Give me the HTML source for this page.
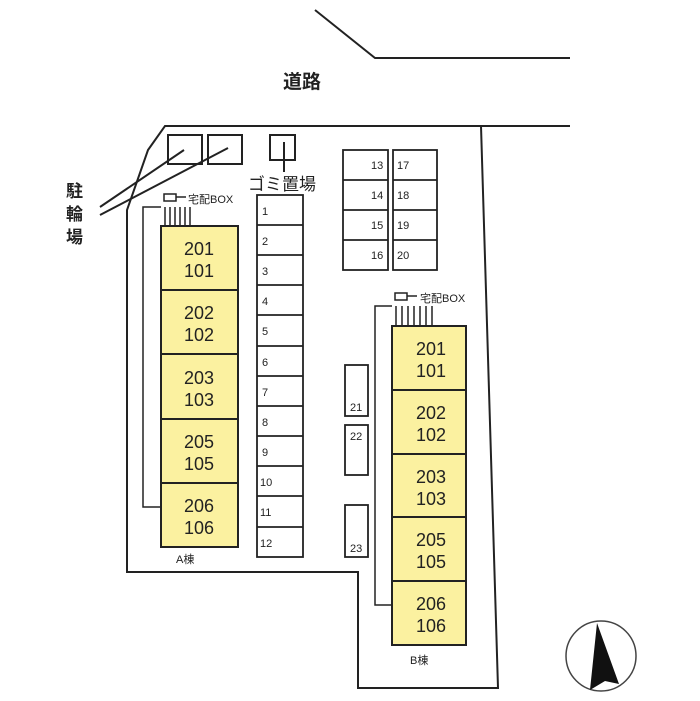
<!DOCTYPE html><html><head><meta charset="utf-8"><style>body{margin:0;background:#fff}svg{display:block}text{font-family:"Liberation Sans","Noto Sans CJK JP",sans-serif;fill:#222}</style></head><body>
<svg width="700" height="701" viewBox="0 0 700 701">
<g fill="none" stroke="#222" stroke-width="2">
<polyline points="315,10 375,58 570,58"/>
<polyline points="570,126 165,126 148,150 127,210 127,572 358,572 358,688 498,688 481,126"/>
<rect x="168" y="135" width="34" height="29"/><rect x="208" y="135" width="34" height="29"/>
<line x1="100" y1="207" x2="184" y2="150"/><line x1="100" y1="215" x2="228" y2="148"/>
<rect x="270" y="135" width="25" height="25"/><line x1="284" y1="142" x2="284" y2="172"/>
</g>
<text x="283" y="88" font-size="19" font-weight="bold">道路</text>
<text x="248" y="190" font-size="17">ゴミ置場</text>
<text x="66" y="197" font-size="17" font-weight="bold">駐</text><text x="66" y="220" font-size="17" font-weight="bold">輪</text><text x="66" y="243" font-size="17" font-weight="bold">場</text>
<g fill="none" stroke="#222" stroke-width="1.8">
<rect x="257" y="195" width="46" height="362"/>
<path d="M257 225h46M257 255h46M257 285h46M257 315h46M257 346h46M257 376h46M257 406h46M257 436h46M257 466h46M257 496h46M257 527h46"/>
<rect x="343" y="150" width="45" height="120"/><rect x="393" y="150" width="44" height="120"/>
<path d="M343 180h45M343 210h45M343 240h45M393 180h44M393 210h44M393 240h44"/>
<rect x="345" y="365" width="23" height="51"/><rect x="345" y="425" width="23" height="50"/><rect x="345" y="505" width="23" height="52"/>
</g>
<g font-size="11">
<text x="262" y="215">1</text><text x="262" y="245">2</text><text x="262" y="275">3</text><text x="262" y="305">4</text><text x="262" y="335">5</text><text x="262" y="366">6</text><text x="262" y="396">7</text><text x="262" y="426">8</text><text x="262" y="456">9</text><text x="260" y="486">10</text><text x="260" y="516">11</text><text x="260" y="547">12</text>
<text x="371" y="169">13</text><text x="371" y="199">14</text><text x="371" y="229">15</text><text x="371" y="259">16</text>
<text x="397" y="169">17</text><text x="397" y="199">18</text><text x="397" y="229">19</text><text x="397" y="259">20</text>
<text x="350" y="411">21</text><text x="350" y="440">22</text><text x="350" y="552">23</text>
<text x="188" y="203">宅配BOX</text><text x="420" y="302">宅配BOX</text>
<text x="176" y="563">A棟</text><text x="410" y="664">B棟</text>
</g>
<g fill="none" stroke="#222" stroke-width="1.5">
<rect x="164" y="194" width="12" height="7"/><line x1="176" y1="197" x2="186" y2="197"/>
<polyline points="161,207 143,207 143,507 161,507"/>
<path d="M165 207v19M170 207v19M175 207v19M180 207v19M185 207v19M190 207v19"/>
<rect x="395" y="293" width="12" height="7"/><line x1="407" y1="296" x2="417" y2="296"/>
<polyline points="392,306 375,306 375,605 392,605"/>
<path d="M396 306v20M402 306v20M408 306v20M414 306v20M420 306v20M426 306v20M432 306v20"/>
</g>
<g fill="#fbf1a0" stroke="#222" stroke-width="2">
<rect x="161" y="226" width="77" height="64"/><rect x="161" y="290" width="77" height="64"/><rect x="161" y="354" width="77" height="65"/><rect x="161" y="419" width="77" height="64"/><rect x="161" y="483" width="77" height="64"/>
<rect x="392" y="326" width="74" height="64"/><rect x="392" y="390" width="74" height="64"/><rect x="392" y="454" width="74" height="63"/><rect x="392" y="517" width="74" height="64"/><rect x="392" y="581" width="74" height="64"/>
</g>
<g font-size="18" text-anchor="middle">
<text x="199" y="255">201</text><text x="199" y="277">101</text>
<text x="199" y="319">202</text><text x="199" y="341">102</text>
<text x="199" y="384">203</text><text x="199" y="406">103</text>
<text x="199" y="448">205</text><text x="199" y="470">105</text>
<text x="199" y="512">206</text><text x="199" y="534">106</text>
<text x="431" y="355">201</text><text x="431" y="377">101</text>
<text x="431" y="419">202</text><text x="431" y="441">102</text>
<text x="431" y="483">203</text><text x="431" y="505">103</text>
<text x="431" y="546">205</text><text x="431" y="568">105</text>
<text x="431" y="610">206</text><text x="431" y="632">106</text>
</g>
<circle cx="601" cy="656" r="35" fill="none" stroke="#444" stroke-width="1.5"/>
<polygon points="597,623 590,690 605,681 619,684" fill="#111"/>
</svg>
</body></html>
